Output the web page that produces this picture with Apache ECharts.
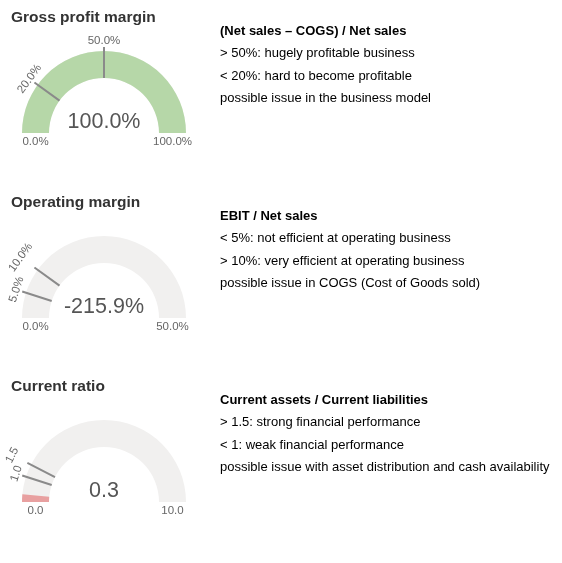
<!DOCTYPE html>
<html>
<head>
<meta charset="utf-8">
<script src="https://cdn.jsdelivr.net/npm/echarts@6/dist/echarts.min.js"></script>
<style>
  html, body { margin: 0; padding: 0; background: #fff; }
  #main { width: 562px; height: 563px; }
</style>
</head>
<body>
<div id="main"></div>
<script>
// 数据
const titles = ['Gross profit margin', 'Operating margin', 'Current ratio'];
const values = [100.0, -215.9, 0.3];
const mins = [0, 0, 0];
const maxs = [100, 50, 10];
const thresholds = [[20, 50], [5, 10], [1, 1.5]];
const units = ['%', '%', ''];
const tickSteps = [10, 5, 0.5];
const formulas = [
    '(Net sales \u2013 COGS) / Net sales',
    'EBIT / Net sales',
    'Current assets / Current liabilities'
];
const notes = [
    ['> 50%: hugely profitable business', '< 20%: hard to become profitable', 'possible issue in the business model'],
    ['< 5%: not efficient at operating business', '> 10%: very efficient at operating business', 'possible issue in COGS (Cost of Goods sold)'],
    ['> 1.5: strong financial performance', '< 1: weak financial performance', 'possible issue with asset distribution and cash availability']
];

// 布局
const rowTops = [0, 185, 369];
const fillColors = ['#b6d7a8', '#b6d7a8', '#e8a0a0'];
const labelLift = [[0, 0], [0, 11], [0, 11]];
const font = "'Liberation Sans', Arial, sans-serif";
const R = 82;
const band = 27;
const cx = 104;

function fmt(v, i) {
    return v.toFixed(1) + units[i];
}

const chart = echarts.init(document.getElementById('main'));
const title = [];
const series = [];

for (let i = 0; i < titles.length; i++) {
    const top = rowTops[i];
    const cy = top + 133;
    title.push({
        text: titles[i],
        left: 11, top: top + 8, padding: 0,
        textStyle: { fontFamily: font, fontSize: 15.5, fontWeight: 'bold', color: '#333', lineHeight: 20 }
    });
    title.push({
        text: formulas[i],
        subtext: notes[i].join('\n'),
        left: 220, top: top + 20, padding: 0, itemGap: 0,
        textStyle: { fontFamily: font, fontSize: 13, fontWeight: 'bold', color: '#000', lineHeight: 22 },
        subtextStyle: { fontFamily: font, fontSize: 13, color: '#000', lineHeight: 22.7 }
    });
    // 主仪表
    series.push({
        type: 'gauge',
        center: [cx, cy], radius: R,
        startAngle: 180, endAngle: 0,
        min: mins[i], max: maxs[i], splitNumber: 1,
        axisLine: { lineStyle: { width: band, color: [[1, '#f1f0ef']] } },
        progress: { show: true, width: band, itemStyle: { color: fillColors[i] } },
        pointer: { show: false },
        axisTick: { show: false },
        splitLine: { show: false, length: 0, distance: 0 },
        axisLabel: {
            show: true, distance: 13.5, rotate: 0.0001,
            lineHeight: 17,
            color: '#666', fontSize: 11.5, fontFamily: font,
            // 空行把标签推到弧线下方
            formatter: v => '\n' + fmt(v, i)
        },
        title: { show: false },
        detail: {
            valueAnimation: false, offsetCenter: [0, -11],
            fontSize: 21.5, fontWeight: 'normal', fontFamily: font, color: '#555',
            formatter: v => fmt(v, i)
        },
        data: [{ value: values[i], name: titles[i] }]
    });
    // 阈值线
    thresholds[i].forEach((t, k) => {
        series.push({
            type: 'gauge',
            center: [cx, cy], radius: R,
            startAngle: 180, endAngle: 0,
            min: mins[i], max: maxs[i],
            splitNumber: Math.round((maxs[i] - mins[i]) / tickSteps[i]),
            axisLine: { show: false },
            progress: { show: false },
            pointer: {
                show: true,
                icon: 'path://M0 0 L2 0 L2 31 L0 31 Z M0 86 L2 86',
                length: 86, width: 2,
                itemStyle: { color: '#8a8a8a' }
            },
            anchor: { show: false },
            axisTick: { show: false },
            splitLine: { show: false, length: 0, distance: 0 },
            axisLabel: {
                show: true, rotate: 'tangential', distance: -(10 + labelLift[i][k]),
                color: '#666', fontSize: 11.5, fontFamily: font,
                formatter: v => Math.abs(v - t) < 1e-9 ? fmt(v, i) : ''
            },
            title: { show: false },
            detail: { show: false },
            data: [{ value: t }]
        });
    });
}

chart.setOption({
    animation: false,
    backgroundColor: '#fff',
    title: title,
    series: series
});
</script>
</body>
</html>
